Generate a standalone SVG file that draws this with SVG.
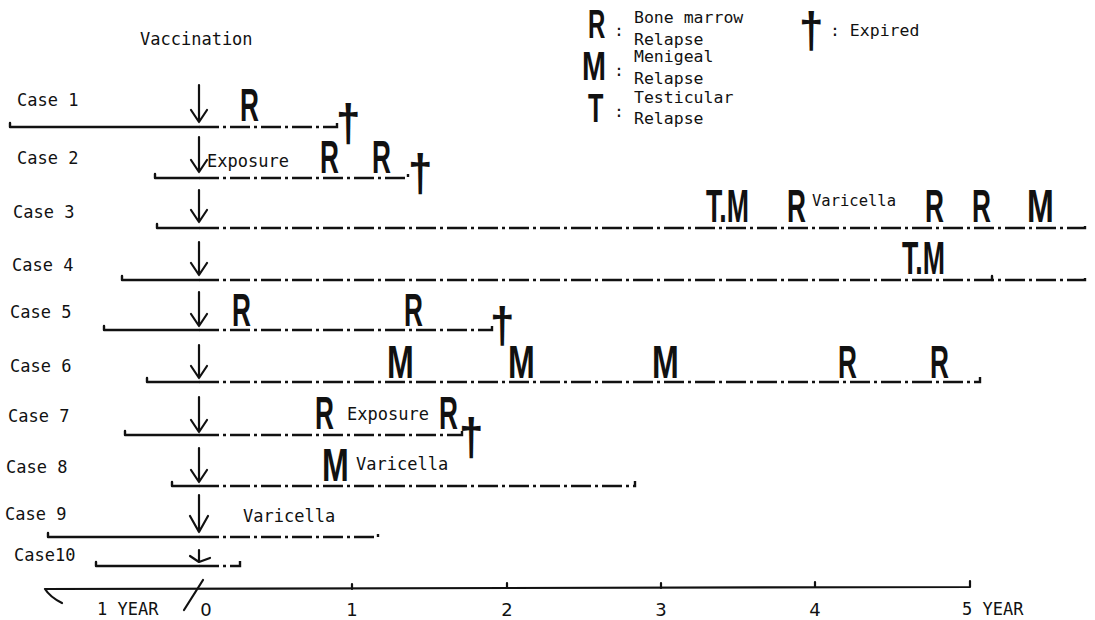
<svg xmlns="http://www.w3.org/2000/svg" width="1095" height="620" viewBox="0 0 1095 620">
  <style>
    .mono { font-family: "DejaVu Sans Mono", "Liberation Mono", monospace; font-size: 17px; fill: #111; }
    .note { font-family: "DejaVu Sans Mono", "Liberation Mono", monospace; font-size: 16.5px; fill: #111; }
    .big { font-family: "Liberation Sans", Arial, sans-serif; font-weight: bold; font-size: 46px; fill: #111; }
    .key { font-family: "Liberation Sans", Arial, sans-serif; font-weight: bold; font-size: 40px; fill: #111; }
    .dag { font-family: "Liberation Sans", Arial, sans-serif; font-weight: bold; font-size: 40px; fill: #111; }
    .num { font-family: "DejaVu Sans", sans-serif; font-size: 18px; fill: #111; }
    .solid { fill: none; stroke: #111; stroke-width: 2.4; stroke-linecap: round; stroke-linejoin: round; }
    .dash { fill: none; stroke: #111; stroke-width: 2.4; stroke-dasharray: 20 4 3 4; }
    .arrow { fill: none; stroke: #111; stroke-width: 2.2; stroke-linecap: round; stroke-linejoin: round; }
    .axis { fill: none; stroke: #111; stroke-width: 2.2; stroke-linecap: round; stroke-linejoin: round; }
  </style>

  <!-- header and legend -->
  <g id="header">
    <text class="mono" x="140" y="45">Vaccination</text>
  </g>
  <g id="legend">
    <text class="key" transform="translate(588,38) scale(0.6,1)">R</text>
    <text class="note" x="614" y="36">:</text>
    <text class="note" x="634" y="23">Bone marrow</text>
    <text class="note" x="634" y="45">Relapse</text>
    <text class="key" transform="translate(582,80) scale(0.72,1)">M</text>
    <text class="note" x="614" y="76">:</text>
    <text class="note" x="634" y="62">Menigeal</text>
    <text class="note" x="634" y="84">Relapse</text>
    <text class="key" transform="translate(588,122) scale(0.63,1)">T</text>
    <text class="note" x="614" y="117">:</text>
    <text class="note" x="634" y="103">Testicular</text>
    <text class="note" x="634" y="124">Relapse</text>
    <text class="dag" transform="translate(799,47) scale(1.1,1.25)">†</text>
    <text class="note" x="830" y="36">: Expired</text>
  </g>

  <!-- timeline bars -->
  <g id="connectors">
    <path class="solid" d="M10,123 V127 H199"/>
    <path class="dash" d="M199,127 H337 V123"/>
    <path class="solid" d="M155,174 V178 H199"/>
    <path class="dash" d="M199,178 H408 V174"/>
    <path class="solid" d="M157,224 V228 H199"/>
    <path class="dash" d="M199,228 H1085 V222"/>
    <path class="solid" d="M122,276 V280 H199"/>
    <path class="dash" d="M199,280 H1085 V275"/>
    <path class="solid" d="M992,280 V276"/>
    <path class="solid" d="M104,326 V330 H199"/>
    <path class="dash" d="M199,330 H492 V326"/>
    <path class="solid" d="M147,378 V382 H199"/>
    <path class="dash" d="M199,382 H980 V377"/>
    <path class="solid" d="M125,431 V435 H199"/>
    <path class="dash" d="M199,435 H462 V431"/>
    <path class="solid" d="M172,482 V486 H199"/>
    <path class="dash" d="M199,486 H635 V481"/>
    <path class="solid" d="M48,533 V537 H199"/>
    <path class="dash" d="M199,537 H378 V532"/>
    <path class="solid" d="M96,562 V566 H199"/>
    <path class="dash" d="M199,566 H240 V561"/>
  </g>

  <g id="case1">
    <text class="mono" x="17" y="106">Case 1</text>
    <path class="arrow" d="M199,85 V122 M191,110 L199,122 L207,110"/>
    <text class="big" transform="translate(240,121) scale(0.57,1)">R</text>
    <text class="dag" transform="translate(336,141) scale(1.1,1.3)">†</text>
  </g>
  <g id="case2">
    <text class="mono" x="17" y="164">Case 2</text>
    <path class="arrow" d="M199,137 V172 M191,160 L199,172 L207,160"/>
    <text class="mono" x="207" y="167">Exposure</text>
    <text class="big" transform="translate(320,173) scale(0.57,1)">R</text>
    <text class="big" transform="translate(372,173) scale(0.57,1)">R</text>
    <text class="dag" transform="translate(408,191) scale(1.1,1.3)">†</text>
  </g>
  <g id="case3">
    <text class="mono" x="13" y="218">Case 3</text>
    <path class="arrow" d="M199,190 V222 M191,210 L199,222 L207,210"/>
    <text class="big" transform="translate(706,222) scale(0.58,1)">T.M</text>
    <text class="big" transform="translate(787,222) scale(0.57,1)">R</text>
    <text class="mono" x="812" y="206" style="font-size:15.5px">Varicella</text>
    <text class="big" transform="translate(925,222) scale(0.57,1)">R</text>
    <text class="big" transform="translate(972,222) scale(0.57,1)">R</text>
    <text class="big" transform="translate(1027,222) scale(0.7,1)">M</text>
  </g>
  <g id="case4">
    <text class="mono" x="12" y="271">Case 4</text>
    <path class="arrow" d="M199,242 V275 M191,263 L199,275 L207,263"/>
    <text class="big" transform="translate(902,274) scale(0.58,1)">T.M</text>
  </g>
  <g id="case5">
    <text class="mono" x="10" y="318">Case 5</text>
    <path class="arrow" d="M199,292 V326 M191,314 L199,326 L207,314"/>
    <text class="big" transform="translate(232,326) scale(0.57,1)">R</text>
    <text class="big" transform="translate(404,326) scale(0.57,1)">R</text>
    <text class="dag" transform="translate(490,342) scale(1.1,1.25)">†</text>
  </g>
  <g id="case6">
    <text class="mono" x="10" y="372">Case 6</text>
    <path class="arrow" d="M199,345 V378 M191,366 L199,378 L207,366"/>
    <text class="big" transform="translate(387,378) scale(0.7,1)">M</text>
    <text class="big" transform="translate(508,378) scale(0.7,1)">M</text>
    <text class="big" transform="translate(652,378) scale(0.7,1)">M</text>
    <text class="big" transform="translate(838,378) scale(0.57,1)">R</text>
    <text class="big" transform="translate(930,378) scale(0.57,1)">R</text>
  </g>
  <g id="case7">
    <text class="mono" x="8" y="422">Case 7</text>
    <path class="arrow" d="M199,397 V432 M191,420 L199,432 L207,420"/>
    <text class="big" transform="translate(315,429) scale(0.57,1)">R</text>
    <text class="mono" x="347" y="420">Exposure</text>
    <text class="big" transform="translate(439,429) scale(0.57,1)">R</text>
    <text class="dag" transform="translate(459,455) scale(1.1,1.3)">†</text>
  </g>
  <g id="case8">
    <text class="mono" x="6" y="473">Case 8</text>
    <path class="arrow" d="M199,448 V482 M191,470 L199,482 L207,470"/>
    <text class="big" transform="translate(322,481) scale(0.7,1)">M</text>
    <text class="mono" x="356" y="470">Varicella</text>
  </g>
  <g id="case9">
    <text class="mono" x="5" y="520">Case 9</text>
    <path class="arrow" d="M199,495 V532 M190,516 L199,532 L208,516"/>
    <text class="mono" x="243" y="522">Varicella</text>
  </g>
  <g id="case10">
    <text class="mono" x="14" y="561">Case10</text>
    <path class="arrow" d="M199,550 V562 M190,556 L199,562 L210,558"/>
  </g>

  <!-- time axis -->
  <g id="axis">
    <path class="axis" d="M62,603 Q50,597 45,589 L970,587 V581"/>
    <path class="axis" d="M184,610 L203,580"/>
    <path class="axis" d="M352,589 V584 M507,588 V583 M661,588 V583 M815,587 V582"/>
    <text class="mono" x="97" y="615">1 YEAR</text>
    <text class="num" x="206" y="616" text-anchor="middle">0</text>
    <text class="num" x="352" y="616" text-anchor="middle">1</text>
    <text class="num" x="507" y="616" text-anchor="middle">2</text>
    <text class="num" x="661" y="616" text-anchor="middle">3</text>
    <text class="num" x="815" y="616" text-anchor="middle">4</text>
    <text class="mono" x="962" y="615">5 YEAR</text>
  </g>
</svg>
